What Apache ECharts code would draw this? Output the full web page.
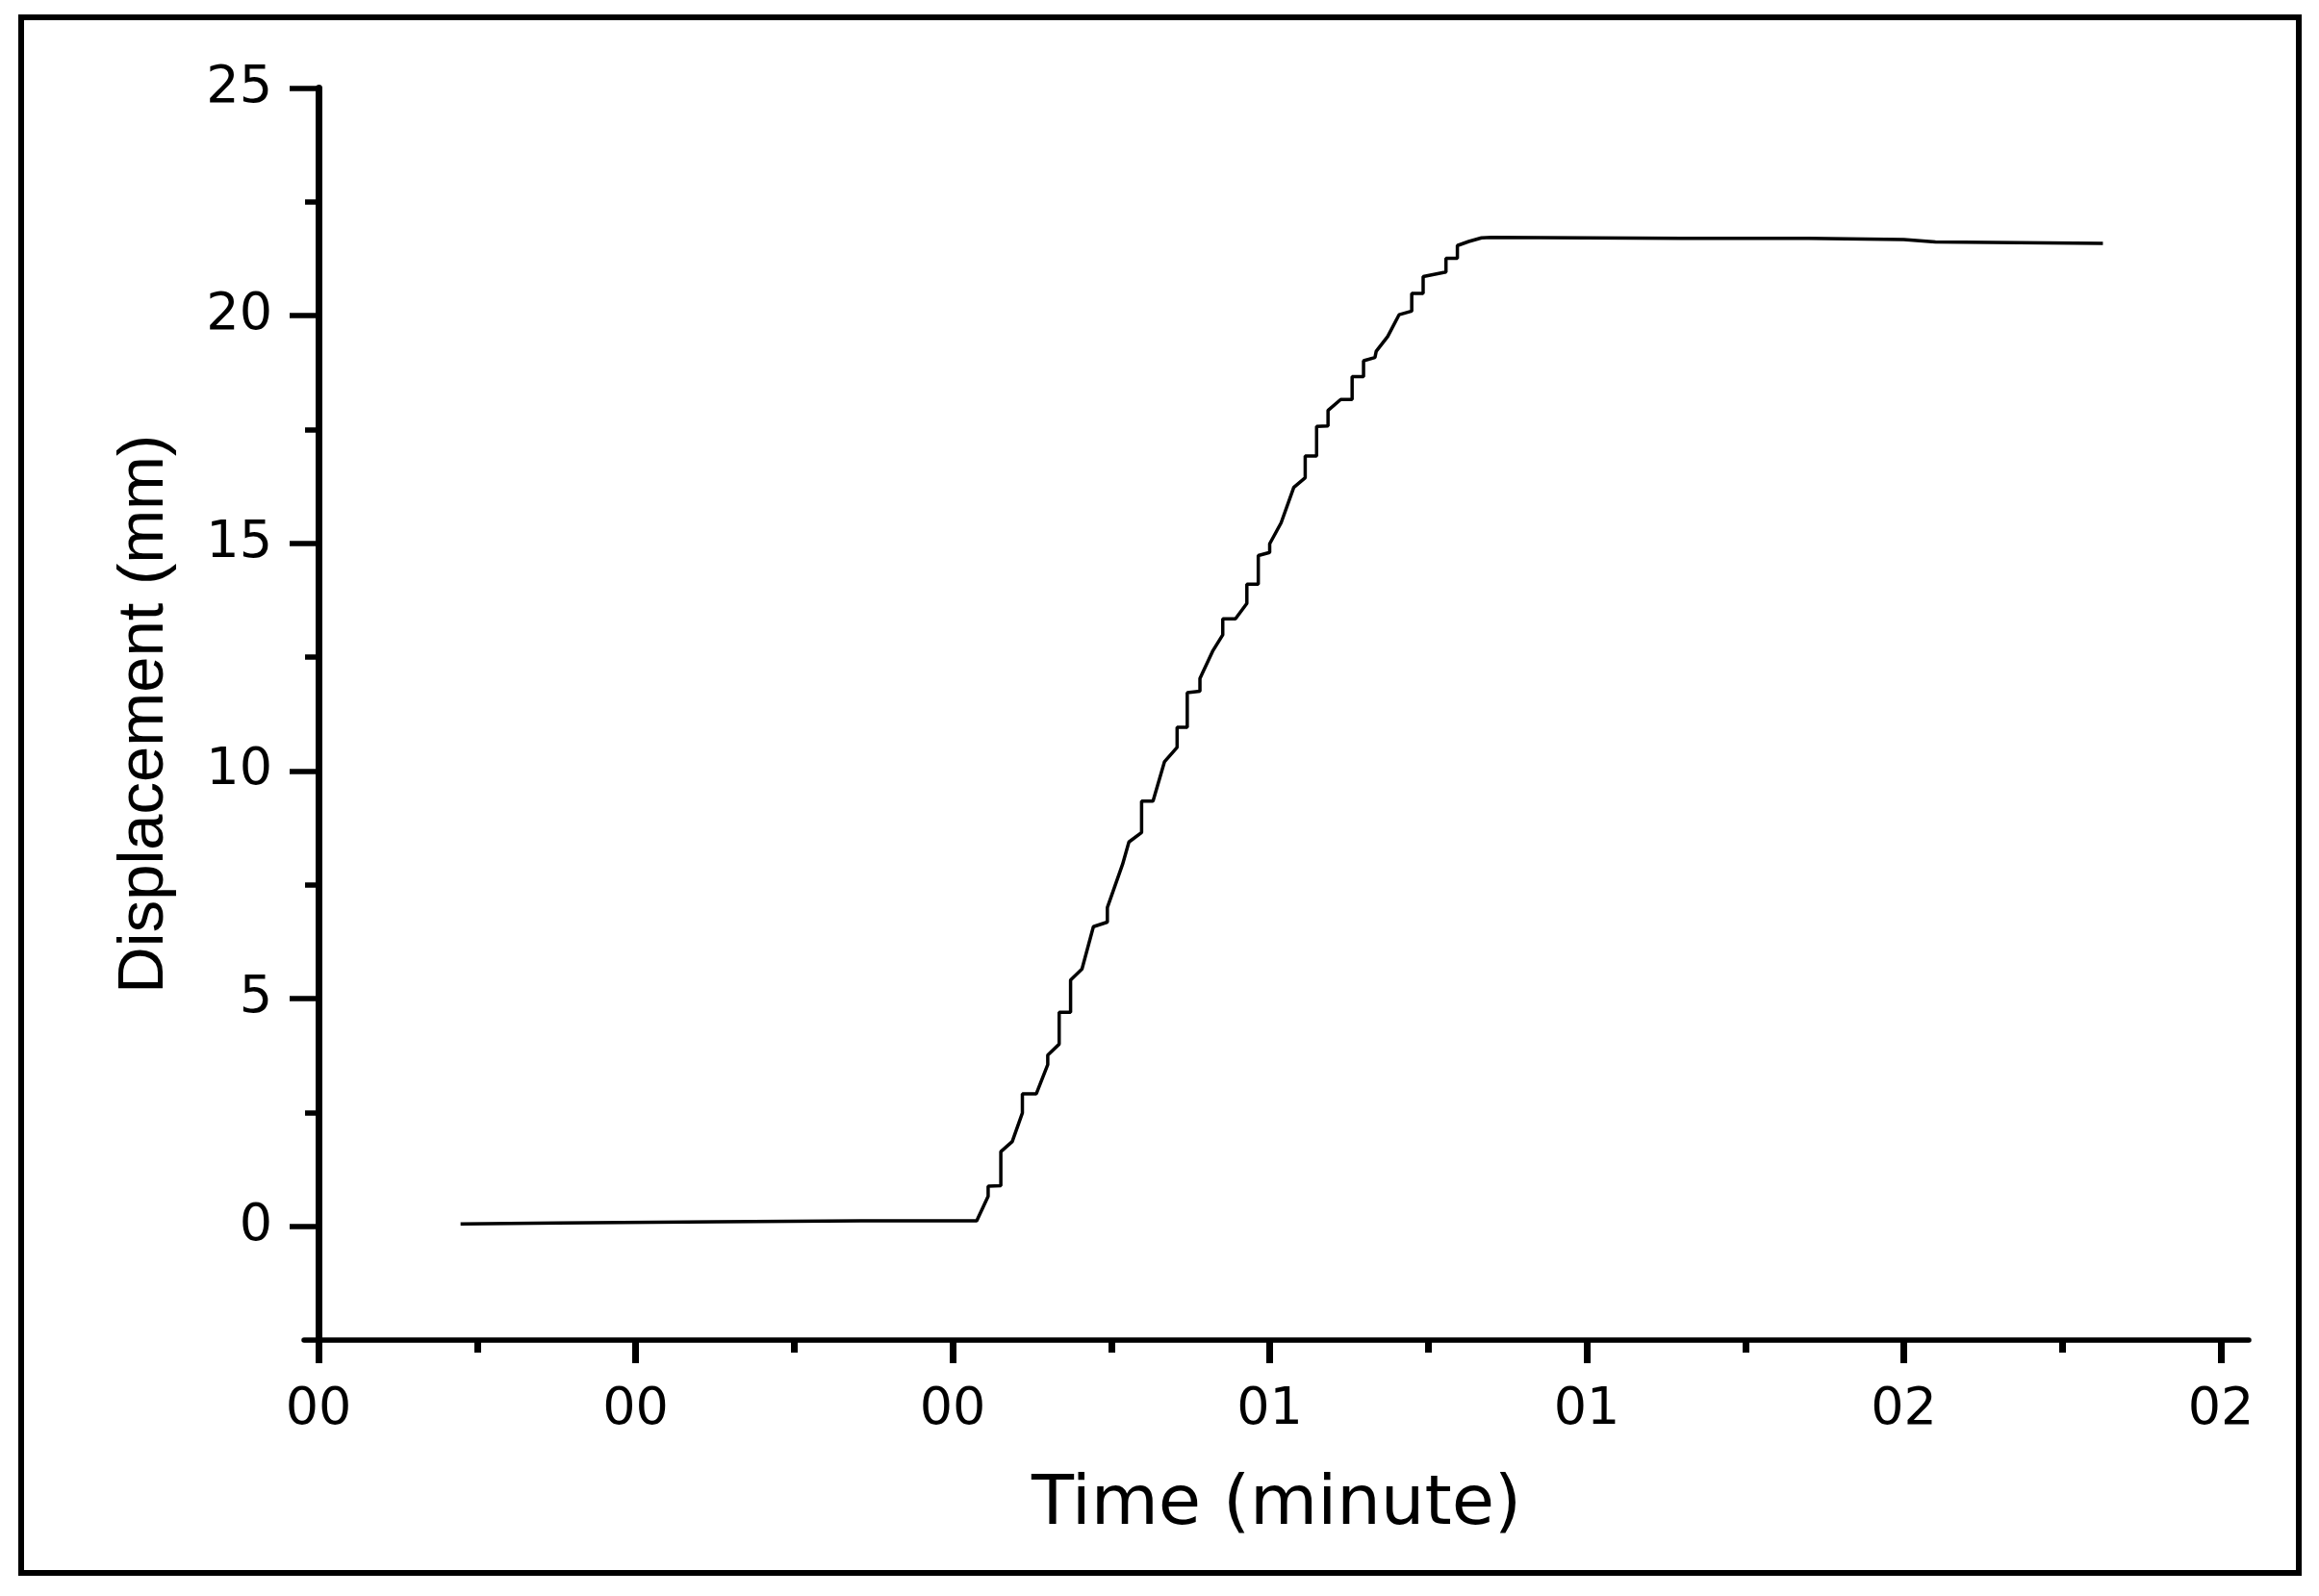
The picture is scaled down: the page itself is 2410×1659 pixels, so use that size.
<!DOCTYPE html>
<html>
<head>
<meta charset="utf-8">
<script src="https://cdn.jsdelivr.net/npm/echarts@6/dist/echarts.min.js"></script>
<style>
  html, body { margin: 0; padding: 0; background: #fff; }
  #main { width: 2410px; height: 1659px; }
</style>
</head>
<body>
<div id="main"></div>
<script>
// time in seconds, displacement in mm
var timeSec = [11.2, 18.9, 31.4, 42.8, 51.9, 52.8, 52.8, 53.8, 53.8, 54.7,
  55.5, 55.5, 56.6, 57.5, 57.5, 58.4, 58.4, 59.3, 59.3, 60.2,
  61.1, 62.2, 62.2, 63.4, 63.9, 64.9, 64.9, 65.8, 66.7, 67.7,
  67.7, 68.5, 68.5, 69.5, 69.5, 70.5, 71.3, 71.3, 72.3, 73.2,
  73.2, 74.1, 74.1, 75.0, 75.0, 75.9, 76.9, 77.8, 77.8, 78.7,
  78.7, 79.6, 79.6, 80.6, 81.5, 81.5, 82.4, 82.4, 83.3, 83.4,
  84.3, 85.2, 86.2, 86.2, 87.1, 87.1, 88.9, 88.9, 89.8, 89.8,
  90.7, 91.7, 92.5, 107.5, 117.5, 125.0, 127.5, 140.7];
var dispMm = [0.05, 0.07, 0.10, 0.12, 0.12, 0.66, 0.88, 0.89, 1.64, 1.86,
  2.49, 2.91, 2.91, 3.55, 3.76, 4.00, 4.70, 4.70, 5.41, 5.65,
  6.58, 6.68, 7.00, 7.95, 8.44, 8.65, 9.34, 9.34, 10.20, 10.52,
  10.96, 10.96, 11.72, 11.75, 12.03, 12.63, 12.99, 13.34, 13.34, 13.68,
  14.10, 14.10, 14.73, 14.80, 14.99, 15.45, 16.23, 16.44, 16.92, 16.92,
  17.57, 17.58, 17.92, 18.16, 18.16, 18.66, 18.66, 19.01, 19.08, 19.22,
  19.54, 20.02, 20.10, 20.49, 20.49, 20.86, 20.96, 21.26, 21.26, 21.54,
  21.63, 21.71, 21.72, 21.70, 21.70, 21.67, 21.62, 21.59];

var xTicks = [0, 25, 50, 75, 100, 125, 150];
var xTickLabels = ['00', '00', '00', '01', '01', '02', '02'];
var xMinorTicks = [12.5, 37.5, 62.5, 87.5, 112.5, 137.5];
var yTicks = [0, 5, 10, 15, 20, 25];
var yMinorTicks = [2.5, 7.5, 12.5, 17.5, 22.5];

var xMin = -1.14, xMax = 152.2;
var yMin = -2.5, yMax = 25;

var points = timeSec.map(function (t, i) { return [t, dispMm[i]]; });

var chart = echarts.init(document.getElementById('main'), null, { renderer: 'canvas' });

var option = {
  animation: false,
  backgroundColor: '#fff',
  grid: { left: 316, right: 73, top: 91.5, bottom: 266, outerBoundsMode: 'none' },
  graphic: [{
    type: 'rect',
    shape: { x: 22, y: 18, width: 2367, height: 1617 },
    style: { fill: null, stroke: '#000', lineWidth: 6 },
    silent: true
  }],
  xAxis: [{
    type: 'value',
    min: xMin,
    max: xMax,
    position: 'bottom',
    name: 'Time (minute)',
    nameLocation: 'middle',
    nameGap: 136,
    nameTextStyle: { fontFamily: 'DejaVu Sans', fontSize: 72, color: '#000' },
    axisLine: { onZero: false, lineStyle: { color: '#000', width: 5.5 } },
    axisTick: { customValues: xTicks, length: 24, lineStyle: { color: '#000', width: 7 } },
    axisLabel: {
      customValues: xTicks,
      formatter: function (v) { return xTickLabels[xTicks.indexOf(v)]; },
      fontFamily: 'DejaVu Sans', fontSize: 54, color: '#000', margin: 46
    },
    splitLine: { show: false }
  }, {
    type: 'value',
    min: xMin,
    max: xMax,
    position: 'bottom',
    axisLine: { show: false, onZero: false },
    axisTick: { customValues: xMinorTicks, length: 13, lineStyle: { color: '#000', width: 7 } },
    axisLabel: { show: false },
    splitLine: { show: false }
  }],
  yAxis: [{
    type: 'value',
    min: yMin,
    max: yMax,
    position: 'left',
    name: 'Displacement (mm)',
    nameLocation: 'middle',
    nameGap: 132,
    nameTextStyle: { fontFamily: 'Liberation Sans', fontSize: 67, color: '#000' },
    axisLine: { lineStyle: { color: '#000', width: 7 } },
    axisTick: { customValues: yTicks, length: 30, lineStyle: { color: '#000', width: 5.5 } },
    axisLabel: {
      customValues: yTicks,
      fontFamily: 'DejaVu Sans', fontSize: 54, color: '#000', margin: 33
    },
    splitLine: { show: false }
  }, {
    type: 'value',
    min: yMin,
    max: yMax,
    position: 'left',
    axisLine: { show: false },
    axisTick: { customValues: yMinorTicks, length: 14, lineStyle: { color: '#000', width: 5.5 } },
    axisLabel: { show: false },
    splitLine: { show: false }
  }],
  series: [{
    type: 'line',
    xAxisIndex: 0,
    yAxisIndex: 0,
    data: points,
    showSymbol: false,
    lineStyle: { color: '#000', width: 3.5 }
  }]
};

chart.setOption(option);
</script>
</body>
</html>
